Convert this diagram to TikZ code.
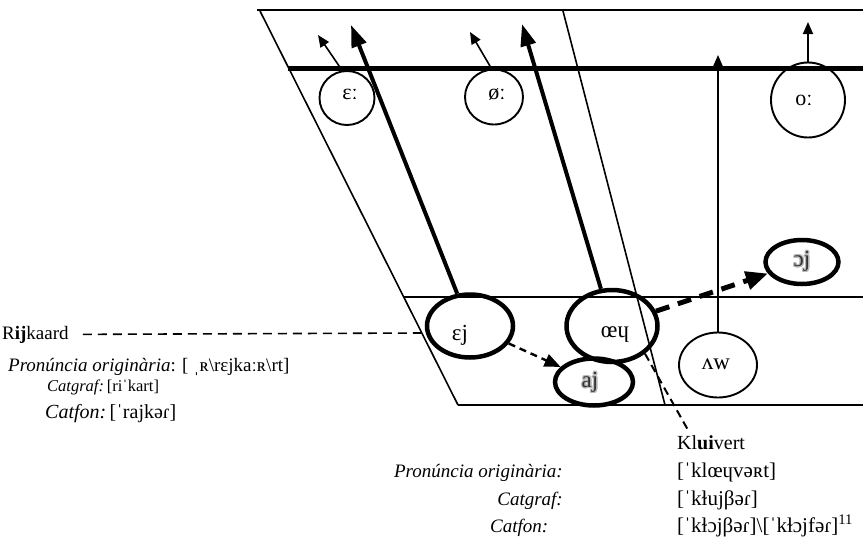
\documentclass[tikz,border=0pt]{standalone}
\usepackage{fontspec}
\setmainfont{Liberation Serif}
\usepackage{contour}
\contourlength{1.2pt}
\usetikzlibrary{arrows.meta,shapes.geometric}
\begin{document}
\begin{tikzpicture}[x=1pt,y=-1pt,
  rule/.style={line width=2pt},
  heavyrule/.style={line width=5pt},
  slant/.style={line width=1.6pt},
  thinell/.style={ellipse, draw, line width=1.9pt, inner sep=0pt},
  thickell/.style={ellipse, draw, line width=4.5pt, inner sep=0pt},
  vowel/.style={inner sep=0pt, font=\fontsize{23}{23}\selectfont},
  longv/.style={inner sep=0pt, font=\fontsize{22}{22}\selectfont},
  thinarrow/.style={line width=1.6pt, -{Triangle[length=12pt,width=10pt]}},
  thickarrow/.style={line width=4pt, -{Triangle[length=22pt,width=15pt]}},
  glide/.style={line width=5pt, dash pattern=on 14pt off 9pt, -{Triangle[length=22pt,width=18pt]}},
  smallglide/.style={line width=2.4pt, dash pattern=on 7pt off 5pt, -{Triangle[length=16pt,width=13pt]}},
  pointer/.style={line width=1.6pt, dash pattern=on 9pt off 6pt},
  pointerb/.style={line width=2pt, dash pattern=on 8pt off 5pt},
  txt/.style={inner sep=0pt, font=\fontsize{19}{19}\selectfont},
  ipa/.style={inner sep=0pt, font=\fontsize{21}{21}\selectfont},
  txtsm/.style={inner sep=0pt, font=\fontsize{16.5}{16.5}\selectfont}]
\useasboundingbox (0,0) rectangle (863,538);

% frame of the vowel chart
\draw[rule] (257,10) -- (863,10);
\draw[heavyrule] (288,68) -- (863,68);
\draw[slant] (260,11) -- (458,405);
\draw[slant] (563,11) -- (665,405);
\draw[rule] (403,297) -- (863,297);
\draw[rule] (458,405) -- (863,405);

% long vowels (top band)
\node[thinell, minimum width=55pt, minimum height=54pt] (e1) at (347,98) {};
\node[thinell, minimum width=58pt, minimum height=55pt] (o1) at (494,97) {};
\node[thinell, minimum width=74pt, minimum height=75pt] (o2) at (808,100) {};
\node[longv] (e1t) at (350,94) {ɛː};
\node[longv] (o1t) at (497,94) {øː};
\node[longv] (o2t) at (804,100) {oː};

% diphthongs
\node[thickell, minimum width=86pt, minimum height=63pt] (ej) at (470,326) {};
\node[thickell, minimum width=91pt, minimum height=72pt] (oe) at (612,326) {};
\node[thickell, minimum width=78pt, minimum height=47pt] (aj) at (594,382) {};
\node[thickell, minimum width=73pt, minimum height=44pt] (oj) at (802,262) {};
\node[thinell, minimum width=78pt, minimum height=65pt] (aw) at (718,365) {};
\node[vowel] (ejt) at (460,335) {ɛj};
\node[vowel] (oet) at (615,335) {œɥ};
\node[vowel, text=black!80] (ajt) at (590,383) {\contour{gray!55}{aj}};
\node[vowel, text=black!80] (ojt) at (802,262) {\contour{gray!55}{ɔj}};
\node[vowel] (awt) at (716,364) {ʌw};

% arrow ends
\coordinate (te1) at (318,35);
\coordinate (tej) at (351,25);
\coordinate (to1) at (470,32);
\coordinate (toe) at (522,24);
\coordinate (taw) at (718,55);
\coordinate (to2) at (808,22);

\draw[thinarrow] (e1.100) -- (te1);
\draw[thickarrow] (ej) -- (tej);
\draw[thinarrow] (o1.95) -- (to1);
\draw[thickarrow] (oe) -- (toe);
\draw[thinarrow] (aw.north) -- (taw);
\draw[thinarrow] (o2.north) -- (to2);

\draw[smallglide] (ej) -- (aj);
\draw[glide] (oe) -- (oj);

% Rijkaard
\node[txt, anchor=base west] (rijk) at (2,339) {R\textbf{ij}kaard};
\coordinate (rj) at (421,333);
\draw[pointer, shorten <=14pt] (rijk.east) -- (rj);
\node[txt, anchor=base west] (rpo) at (8,371) {\textit{Pronúncia originària}: [ ˌʀ\textbackslash rɛjkaːʀ\textbackslash rt]};
\node[txtsm, anchor=base west] (rcg) at (47,391) {\textit{Catgraf:}\,[riˈkart]};
\node[txt, anchor=base west, font=\fontsize{20}{20}\selectfont] (rcf) at (45,418) {\textit{Catfon:}\,[ˈrajkəɾ]};

% Kluivert
\node[txt, anchor=base west, font=\fontsize{20}{20}\selectfont] (kluiv) at (677,449) {Kl\textbf{ui}vert};
\coordinate (kv) at (688,430);
\draw[pointerb] (oe.-40) -- (kv);
\node[txt, anchor=base east] (kpo) at (563,477) {\textit{Pronúncia originària:}};
\node[txt, anchor=base east] (kcg) at (563,505) {\textit{Catgraf:}};
\node[txt, anchor=base west] (kcf) at (490,532) {\textit{Catfon:}};
\node[ipa, anchor=base west] (kpoi) at (677,477) {[ˈklœɥvəʀt]};
\node[ipa, anchor=base west] (kcgi) at (677,505) {[ˈkɫujβəɾ]};
\node[ipa, anchor=base west] (kcfi) at (677,532) {[ˈkɫɔjβəɾ]\textbackslash[ˈkɫɔjfəɾ]\textsuperscript{11}};
\end{tikzpicture}
\end{document}
